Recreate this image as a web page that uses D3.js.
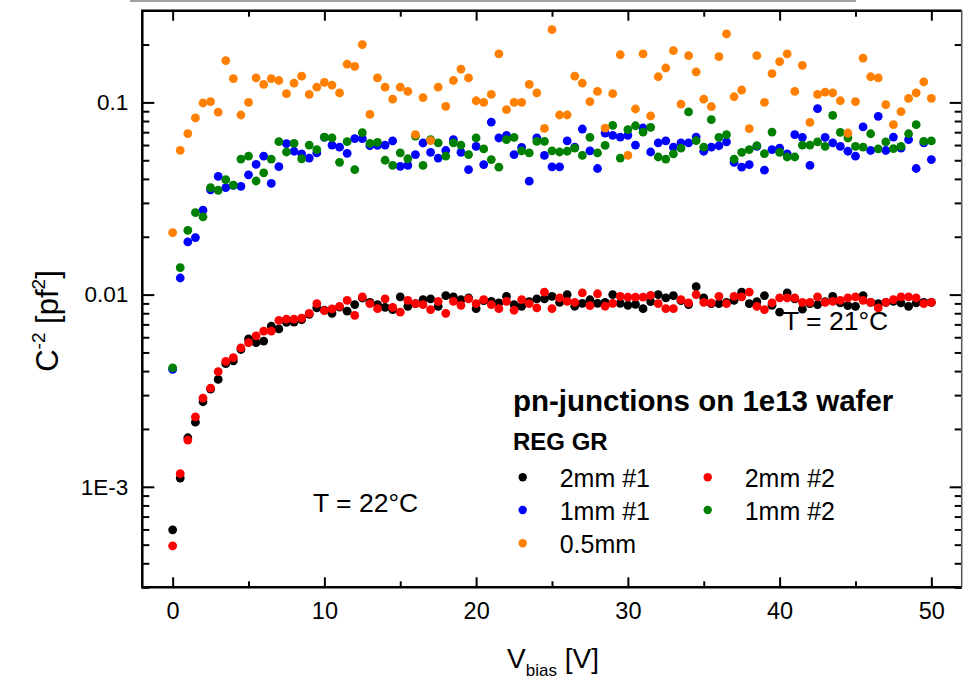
<!DOCTYPE html>
<html>
<head>
<meta charset="utf-8">
<title>C-2 vs Vbias</title>
<script src="https://cdn.jsdelivr.net/npm/d3@7"></script>
<style>
  body { margin: 0; background: #fff; }
  svg { display: block; font-family: "Liberation Sans", Arial, sans-serif; }
  .domain { display: none; }
</style>
</head>
<body>
<svg id="chart" width="972" height="680"></svg>
<script>
// bias voltage grid [V]
var vbias = [
  0, 0.5, 1, 1.5, 2, 2.5, 3, 3.5, 4, 4.5,
  5, 5.5, 6, 6.5, 7, 7.5, 8, 8.5, 9, 9.5,
  10, 10.5, 11, 11.5, 12, 12.5, 13, 13.5, 14, 14.5,
  15, 15.5, 16, 16.5, 17, 17.5, 18, 18.5, 19, 19.5,
  20, 20.5, 21, 21.5, 22, 22.5, 23, 23.5, 24, 24.5,
  25, 25.5, 26, 26.5, 27, 27.5, 28, 28.5, 29, 29.5,
  30, 30.5, 31, 31.5, 32, 32.5, 33, 33.5, 34, 34.5,
  35, 35.5, 36, 36.5, 37, 37.5, 38, 38.5, 39, 39.5,
  40, 40.5, 41, 41.5, 42, 42.5, 43, 43.5, 44, 44.5,
  45, 45.5, 46, 46.5, 47, 47.5, 48, 48.5, 49, 49.5,
  50
];

// C^-2 [pf^-2]
var mm2_1 = [
  0.000597, 0.00111, 0.0018, 0.00217, 0.00277, 0.00322, 0.00362, 0.00437, 0.00452, 0.00518,
  0.00588, 0.00562, 0.00573, 0.00685, 0.00663, 0.00717, 0.0072, 0.0074, 0.0079, 0.00852,
  0.0083, 0.00799, 0.0086, 0.0082, 0.00887, 0.0096, 0.00912, 0.00887, 0.00859, 0.00836,
  0.00972, 0.00869, 0.00897, 0.00942, 0.00949, 0.00869, 0.00988, 0.00972, 0.0094, 0.00961,
  0.00845, 0.0093, 0.00923, 0.00905, 0.0098, 0.00887, 0.00869, 0.0092, 0.00949, 0.0095,
  0.0098, 0.0091, 0.0100, 0.0087, 0.0090, 0.0094, 0.0090, 0.0091, 0.0100, 0.0090,
  0.0088, 0.0089, 0.00845, 0.0092, 0.0100, 0.00961, 0.00988, 0.0093, 0.00887, 0.0110,
  0.00961, 0.00897, 0.00897, 0.00912, 0.00934, 0.0103, 0.00897, 0.0092, 0.00988, 0.00879,
  0.0081, 0.0102, 0.0095, 0.0084, 0.00897, 0.00887, 0.0092, 0.0098, 0.00905, 0.00876,
  0.00869, 0.00988, 0.0091, 0.00897, 0.00912, 0.00923, 0.00905, 0.00869, 0.00905, 0.0091,
  0.0091
];
var mm2_2 = [
  0.000493, 0.00117, 0.00175, 0.00231, 0.00289, 0.00326, 0.00397, 0.00449, 0.0047, 0.00528,
  0.00562, 0.0061, 0.00645, 0.00645, 0.00734, 0.00746, 0.00746, 0.00755, 0.00799, 0.00897,
  0.00826, 0.00842, 0.00869, 0.00934, 0.0078, 0.00972, 0.00897, 0.00845, 0.00949, 0.00859,
  0.0081, 0.00934, 0.00897, 0.00887, 0.00836, 0.00923, 0.00799, 0.00923, 0.00879, 0.00949,
  0.00897, 0.00942, 0.00887, 0.00845, 0.00923, 0.00829, 0.00942, 0.00897, 0.00852, 0.0103,
  0.00845, 0.00961, 0.00923, 0.00912, 0.0102, 0.00876, 0.0101, 0.0087, 0.0090, 0.0098,
  0.0097, 0.0097, 0.0097, 0.0099, 0.00897, 0.00845, 0.00845, 0.00942, 0.00905, 0.0100,
  0.00912, 0.00905, 0.0098, 0.00897, 0.0098, 0.00972, 0.0103, 0.00869, 0.00836, 0.00905,
  0.00961, 0.00961, 0.00961, 0.00912, 0.00912, 0.00972, 0.00912, 0.00923, 0.00934, 0.00961,
  0.00972, 0.00934, 0.00912, 0.00852, 0.00912, 0.00942, 0.00972, 0.00972, 0.00961, 0.00897,
  0.00912
];
var mm1_1 = [
  0.00408, 0.0122, 0.0188, 0.0198, 0.0275, 0.0351, 0.0412, 0.036, 0.037, 0.0366,
  0.042, 0.0476, 0.0525, 0.0379, 0.0463, 0.061, 0.0557, 0.054, 0.0513, 0.0546,
  0.0658, 0.060, 0.0585, 0.0543, 0.0648, 0.0648, 0.0595, 0.0597, 0.060, 0.063,
  0.0465, 0.047, 0.0535, 0.0615, 0.055, 0.0513, 0.0562, 0.064, 0.055, 0.0447,
  0.059, 0.0475, 0.079, 0.0653, 0.0673, 0.0535, 0.0583, 0.0389, 0.0653, 0.053,
  0.0462, 0.0462, 0.063, 0.0585, 0.0727, 0.056, 0.0453, 0.0693, 0.0673, 0.066,
  0.0673, 0.060, 0.0736, 0.0552, 0.0616, 0.063, 0.0585, 0.0616, 0.0616, 0.066,
  0.0557, 0.0585, 0.0595, 0.0623, 0.0488, 0.046, 0.0475, 0.059, 0.0444, 0.0568,
  0.0578, 0.054, 0.0679, 0.0658, 0.047, 0.0928, 0.0658, 0.0616, 0.059, 0.0557,
  0.0525, 0.0745, 0.0562, 0.0846, 0.0562, 0.066, 0.0578, 0.064, 0.0453, 0.0616,
  0.0504
];
var mm1_2 = [
  0.00416, 0.0138, 0.0216, 0.0267, 0.0254, 0.036, 0.0349, 0.0396, 0.0371, 0.0507,
  0.0525, 0.039, 0.043, 0.0507, 0.0625, 0.0552, 0.0612, 0.0509, 0.060, 0.0568,
  0.066, 0.0653, 0.0488, 0.0625, 0.0447, 0.0696, 0.0612, 0.062, 0.050, 0.047,
  0.0546, 0.0509, 0.0668, 0.047, 0.064, 0.0616, 0.0525, 0.0616, 0.060, 0.0535,
  0.0653, 0.0573, 0.0504, 0.046, 0.064, 0.0658, 0.056, 0.0546, 0.0627, 0.0627,
  0.056, 0.0552, 0.0557, 0.0578, 0.053, 0.0658, 0.0546, 0.0597, 0.0759, 0.0513,
  0.0721, 0.0756, 0.0701, 0.0742, 0.052, 0.0507, 0.054, 0.0578, 0.0892, 0.0633,
  0.0585, 0.0813, 0.0658, 0.0679, 0.0507, 0.055, 0.0568, 0.0595, 0.0541, 0.0701,
  0.055, 0.052, 0.052, 0.060, 0.060, 0.0623, 0.059, 0.0856, 0.0699, 0.0653,
  0.059, 0.0585, 0.0687, 0.0573, 0.0623, 0.0575, 0.059, 0.0687, 0.0766, 0.0627,
  0.063
];
var mm05 = [
  0.021, 0.0563, 0.0688, 0.0831, 0.0993, 0.101, 0.089, 0.165, 0.133, 0.086,
  0.100, 0.134, 0.124, 0.133, 0.130, 0.111, 0.126, 0.137, 0.110, 0.120,
  0.127, 0.123, 0.112, 0.158, 0.154, 0.200, 0.0866, 0.134, 0.120, 0.104,
  0.120, 0.114, 0.068, 0.106, 0.0633, 0.120, 0.0953, 0.130, 0.149, 0.134,
  0.102, 0.100, 0.110, 0.179, 0.0917, 0.100, 0.100, 0.124, 0.112, 0.0732,
  0.239, 0.086, 0.086, 0.137, 0.126, 0.101, 0.114, 0.0735, 0.111, 0.177,
  0.053, 0.0924, 0.179, 0.085, 0.136, 0.151, 0.186, 0.098, 0.175, 0.144,
  0.104, 0.095, 0.173, 0.227, 0.107, 0.116, 0.073, 0.175, 0.100, 0.141,
  0.163, 0.179, 0.114, 0.156, 0.0787, 0.110, 0.113, 0.112, 0.102, 0.0693,
  0.101, 0.170, 0.136, 0.134, 0.0973, 0.0766, 0.0895, 0.105, 0.112, 0.128,
  0.105
];

var seriesNames = ["2mm #1", "2mm #2", "1mm #1", "1mm #2", "0.5mm"];
var seriesColors = ["#000000", "#ff0000", "#0000ff", "#008000", "#ff8000"];
var seriesValues = [mm2_1, mm2_2, mm1_1, mm1_2, mm05];

var xMajor = [0, 10, 20, 30, 40, 50];
var xMinor = [5, 15, 25, 35, 45];
var yMajor = [0.001, 0.01, 0.1];
var yMajorLabels = ["1E-3", "0.01", "0.1"];

var svg = d3.select("#chart");
// plot box (note: "top" is a reserved window property, so use other names)
var pLeft = 142.3, pRight = 961.7, pTop = 10.7, pBottom = 587.3;

var x = d3.scaleLinear().domain([-2, 52]).range([pLeft, pRight]);
var y = d3.scaleLog().domain([3e-4, 0.3]).range([pBottom, pTop]);

// minor ticks for log axis: 2..9 in each decade
var yMinor = [];
[1e-4, 1e-3, 1e-2, 1e-1].forEach(function(d) {
  for (var k = 2; k <= 9; k++) {
    var v = d * k;
    if (v >= 3e-4 && v <= 0.3) yMinor.push(v);
  }
});

// thin grey line across the very top (crop artefact of the original)
svg.append("line")
  .attr("x1", 130).attr("x2", 856).attr("y1", 1).attr("y2", 1)
  .attr("stroke", "#a0a0a0").attr("stroke-width", 2);

// axes ---------------------------------------------------------------
function styleTicks(g) {
  g.selectAll(".tick line").attr("stroke", "#000").attr("stroke-width", 2);
}
function styleLabels(size) {
  return function(g) {
    g.selectAll(".tick text").attr("font-size", size).attr("fill", "#000")
      .attr("font-family", "Liberation Sans, Arial, sans-serif");
  };
}

svg.append("g").attr("transform", "translate(0," + pBottom + ")")
  .call(d3.axisBottom(x).tickValues(xMajor).tickSize(-10).tickPadding(15).tickFormat(d3.format("d")))
  .call(styleTicks).call(styleLabels(23.5));
svg.append("g").attr("transform", "translate(0," + pBottom + ")")
  .call(d3.axisBottom(x).tickValues(xMinor).tickSize(-6).tickFormat(""))
  .call(styleTicks);
svg.append("g").attr("transform", "translate(0," + pTop + ")")
  .call(d3.axisTop(x).tickValues(xMajor).tickSize(-10).tickFormat(""))
  .call(styleTicks);
svg.append("g").attr("transform", "translate(0," + pTop + ")")
  .call(d3.axisTop(x).tickValues(xMinor).tickSize(-6).tickFormat(""))
  .call(styleTicks);

svg.append("g").attr("transform", "translate(" + pLeft + ",0)")
  .call(d3.axisLeft(y).tickValues(yMajor).tickSize(-12).tickPadding(14)
    .tickFormat(function(d, i) { return yMajorLabels[i]; }))
  .call(styleTicks).call(styleLabels(22.5));
svg.append("g").attr("transform", "translate(" + pLeft + ",0)")
  .call(d3.axisLeft(y).tickValues(yMinor).tickSize(-7).tickFormat(""))
  .call(styleTicks);
svg.append("g").attr("transform", "translate(" + pRight + ",0)")
  .call(d3.axisRight(y).tickValues(yMajor).tickSize(-12).tickFormat(""))
  .call(styleTicks);
svg.append("g").attr("transform", "translate(" + pRight + ",0)")
  .call(d3.axisRight(y).tickValues(yMinor).tickSize(-7).tickFormat(""))
  .call(styleTicks);

// frame
svg.append("path")
  .attr("d", "M" + pRight + "," + pTop + "H" + pLeft + "V" + pBottom + "H" + pRight)
  .attr("fill", "none").attr("stroke", "#000").attr("stroke-width", 2.5);
svg.append("line")
  .attr("x1", pRight).attr("x2", pRight).attr("y1", pTop).attr("y2", pBottom)
  .attr("stroke", "#555").attr("stroke-width", 1.5);

// data points --------------------------------------------------------
seriesValues.forEach(function(vals, s) {
  svg.append("g")
    .selectAll("circle")
    .data(vals)
    .enter()
    .append("circle")
    .attr("cx", function(d, i) { return x(vbias[i]); })
    .attr("cy", function(d) { return y(d); })
    .attr("r", 4.4)
    .attr("fill", seriesColors[s]);
});

// annotations --------------------------------------------------------
svg.append("text").attr("x", 313).attr("y", 512)
  .attr("font-size", 26.5).text("T = 22°C");
svg.append("text").attr("x", 783).attr("y", 330)
  .attr("font-size", 26.5).text("T = 21°C");

// legend
svg.append("text").attr("x", 513).attr("y", 411)
  .attr("font-size", 29.5).attr("font-weight", "bold")
  .text("pn-junctions on 1e13 wafer");
svg.append("text").attr("x", 513).attr("y", 450)
  .attr("font-size", 24).attr("font-weight", "bold")
  .text("REG GR");

var legendPos = [
  [522.7, 477.3], [707.7, 477.3],
  [522.7, 510], [707.7, 510],
  [522.7, 543.3]
];
seriesNames.forEach(function(name, s) {
  var p = legendPos[s];
  svg.append("circle").attr("cx", p[0]).attr("cy", p[1]).attr("r", 4.2)
    .attr("fill", seriesColors[s]);
  svg.append("text").attr("x", p[0] + 37).attr("y", p[1] + 9.5)
    .attr("font-size", 25).text(name);
});

// axis titles
var yt = svg.append("text")
  .attr("transform", "translate(58,321) rotate(-90)")
  .attr("text-anchor", "middle").attr("font-size", 31);
yt.append("tspan").text("C");
yt.append("tspan").attr("font-size", 19).attr("dy", -13).text("-2");
yt.append("tspan").attr("dy", 13).text(" [pf");
yt.append("tspan").attr("font-size", 19).attr("dy", -13).text("2");
yt.append("tspan").attr("dy", 13).text("]");

var xt = svg.append("text")
  .attr("x", 553).attr("y", 668)
  .attr("text-anchor", "middle").attr("font-size", 28);
xt.append("tspan").text("V");
xt.append("tspan").attr("font-size", 17).attr("dy", 8).text("bias");
xt.append("tspan").attr("dy", -8).text(" [V]");
</script>
</body>
</html>
